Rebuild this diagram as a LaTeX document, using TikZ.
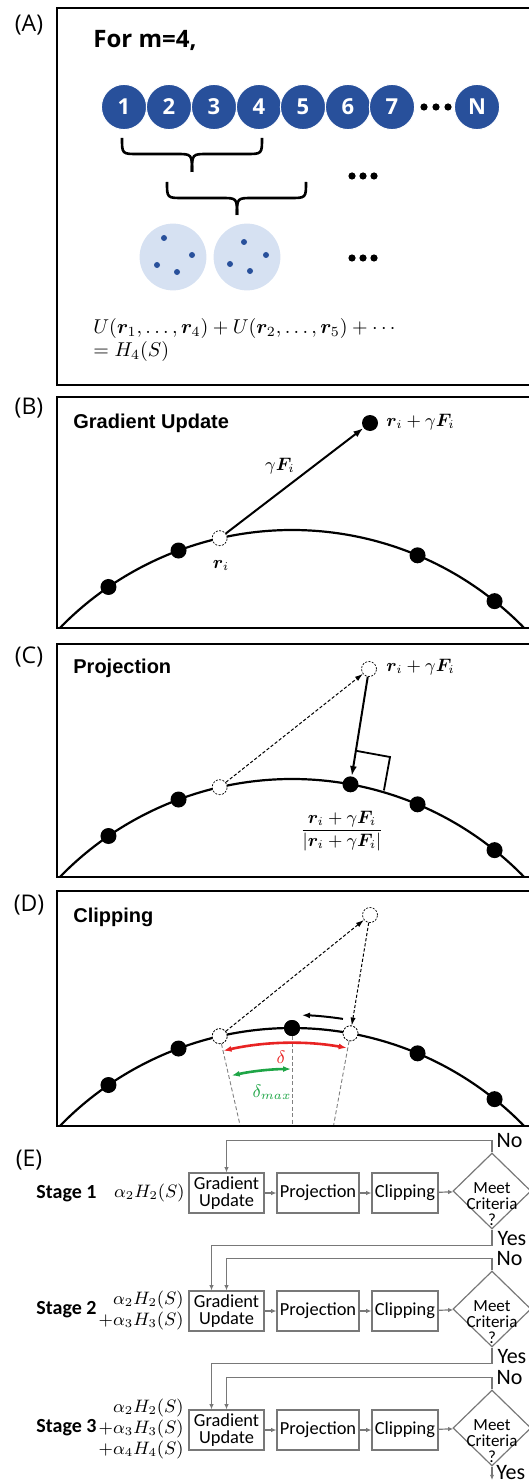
\documentclass[tikz,border=0pt]{standalone}
\usepackage{amsmath}
\usepackage{bm}
\usepackage{fontspec}
\newfontfamily\arialfont{Liberation Sans}
\newfontfamily\calfont{Carlito}
\newfontfamily\segfont{Open Sans}
\usetikzlibrary{arrows.meta,shapes.geometric}
\definecolor{seqblue}{RGB}{40,80,155}
\definecolor{clusterblue}{RGB}{214,225,242}
\definecolor{deltared}{RGB}{232,35,35}
\definecolor{deltagreen}{RGB}{30,165,70}
\definecolor{flowgray}{RGB}{120,120,120}
\begin{document}
\begin{tikzpicture}[x=0.5pt, y=-0.5pt,
  panel/.style={line width=1.2pt},
  tag/.style={inner sep=0pt, font=\segfont\fontsize{11.5}{13}\selectfont},
  heading/.style={anchor=west, inner sep=0pt, font=\arialfont\bfseries\fontsize{10}{12}\selectfont},
  seqatom/.style={circle, fill=seqblue, draw=white, line width=0.5pt, minimum size=22.6pt, inner sep=0pt, text=white, font=\segfont\bfseries\fontsize{11}{12}\selectfont},
  sphere/.style={line width=1.1pt},
  atom/.style={circle, fill=black, inner sep=0pt, minimum size=8pt},
  ghost/.style={circle, draw, dash pattern=on 1pt off 0.7pt, line width=0.35pt, fill=white, inner sep=0pt, minimum size=7.5pt},
  mathlbl/.style={inner sep=1pt, font=\fontsize{9}{11}\selectfont},
  pusharrow/.style={-{Latex[length=5pt,width=3.5pt]}, line width=1pt},
  trialarrow/.style={-{Latex[length=4pt,width=2.6pt]}, dash pattern=on 1.6pt off 1pt, line width=0.5pt},
  radial/.style={gray, dash pattern=on 2pt off 1.2pt, line width=0.45pt},
  stagelbl/.style={anchor=west, inner sep=0pt, font=\calfont\bfseries\fontsize{10}{12}\selectfont},
  coef/.style={inner sep=0pt, align=right, font=\fontsize{9}{10.5}\selectfont},
  stepbox/.style={draw=flowgray, line width=0.6pt, minimum height=20pt, inner sep=1pt, align=center, font=\calfont\fontsize{9.2}{8.6}\selectfont},
  decide/.style={diamond, draw=flowgray, line width=0.6pt, minimum width=39pt, minimum height=38pt, inner sep=0pt,
    label={[align=center, inner sep=0pt, yshift=-6.5pt, font=\calfont\fontsize{8.5}{7.8}\selectfont]center:{Meet\\Criteria\\?}}},
  flow/.style={flowgray, line width=0.6pt, -{Latex[length=2.6pt,width=2.2pt]}},
  answer/.style={inner sep=0pt, text=black, font=\calfont\fontsize{11}{12}\selectfont}
]
\useasboundingbox (0,0) rectangle (529,1482);
\clip (0,0) rectangle (529,1482);

% (A) sliding windows
\draw[panel] (57,8) rectangle (620,385);
\node[tag] (tagA) at (29,25) {(A)};
\node[anchor=west, inner sep=0pt, font=\segfont\bfseries\fontsize{12}{14}\selectfont] (forM) at (93,40) {For m=4,};
\node[seqatom] (a1) at (124,107) {1};
\node[seqatom] (a2) at (169,107) {2};
\node[seqatom] (a3) at (214,107) {3};
\node[seqatom] (a4) at (259,107) {4};
\node[seqatom] (a5) at (303,107) {5};
\node[seqatom] (a6) at (348,107) {6};
\node[seqatom] (a7) at (392,107) {7};
\node[seqatom] (aN) at (477,107) {N};
\fill (424,107) circle (1.8pt) (436,107) circle (1.8pt) (448,107) circle (1.8pt);
% braces
\draw[line width=1.3pt, line join=round] (122,138) .. controls (122,154) .. (138,154) -- (176,154) .. controls (192,154) .. (192,172);
\draw[line width=1.3pt, line join=round] (262,138) .. controls (262,154) .. (246,154) -- (208,154) .. controls (192,154) .. (192,172);
\draw[line width=1.3pt, line join=round] (167,182) .. controls (167,198) .. (183,198) -- (221,198) .. controls (237,198) .. (237,215);
\draw[line width=1.3pt, line join=round] (306,182) .. controls (306,198) .. (290,198) -- (253,198) .. controls (237,198) .. (237,215);
\fill (352,176) circle (1.8pt) (363,176) circle (1.8pt) (374,176) circle (1.8pt);
% clusters
\fill[clusterblue] (173,257) circle (16.7pt) (247,257) circle (16.7pt);
\fill[seqblue] (164,238) circle (1.5pt) (192,255) circle (1.5pt) (157,265) circle (1.5pt) (177,272) circle (1.5pt);
\fill[seqblue] (244,242) circle (1.5pt) (266,255) circle (1.5pt) (230,264) circle (1.5pt) (250,271) circle (1.5pt);
\fill (352,258) circle (1.8pt) (363,258) circle (1.8pt) (374,258) circle (1.8pt);
\node[anchor=west, inner sep=0pt, font=\fontsize{10}{12}\selectfont] (sumU) at (93,328) {$U(\bm{r}_1,\dots,\bm{r}_4)+U(\bm{r}_2,\dots,\bm{r}_5)+\cdots$};
\node[anchor=west, inner sep=0pt, font=\fontsize{10}{12}\selectfont] (sumH) at (93,351) {$=H_4(S)$};

% (B) gradient update
\node[tag] (tagB) at (29,408) {(B)};
\begin{scope}
\clip (57,397) rectangle (620,628);
\begin{scope}[shift={(292,854)}]
\draw[sphere] (-140:324) arc[start angle=-140, end angle=-40, radius=324];
\node[atom] (b1) at (-124.5:324) {};
\node[atom] (b2) at (-110.5:324) {};
\node[atom] (b3) at (-67.2:324) {};
\node[atom] (b4) at (-51.3:324) {};
\node[ghost] (bri) at (-102.9:324) {};
\end{scope}
\end{scope}
\draw[panel] (57,397) rectangle (620,628);
\node[heading] (headB) at (73,423) {Gradient Update};
\node[atom] (bnew) at (370,423) {};
\draw[pusharrow] (bri) -- (bnew);
\node[mathlbl] (lblBF) at (280,466) {$\gamma\bm{F}_i$};
\node[mathlbl] (lblBri) at (221,565) {$\bm{r}_i$};
\node[mathlbl, anchor=west] (lblBnew) at (384,422) {$\bm{r}_i+\gamma\bm{F}_i$};

% (C) projection
\node[tag] (tagC) at (29,657) {(C)};
\begin{scope}
\clip (57,644) rectangle (620,877);
\begin{scope}[shift={(292,1103)}]
\draw[sphere] (-140:324) arc[start angle=-140, end angle=-40, radius=324];
\draw[line width=0.9pt] (-79.6:358) -- ++(33.4,6.1) -- ++(-6.1,33.4);
\node[atom] (c1) at (-124.5:324) {};
\node[atom] (c2) at (-110.5:324) {};
\node[atom] (c3) at (-67.2:324) {};
\node[atom] (c4) at (-51.3:324) {};
\node[ghost] (cri) at (-102.9:324) {};
\node[atom] (cproj) at (-79.6:324) {};
\end{scope}
\end{scope}
\draw[panel] (57,644) rectangle (620,877);
\node[heading] (headC) at (73,668) {Projection};
\node[ghost] (cnew) at (369,669) {};
\draw[trialarrow] (cri) -- (cnew);
\draw[pusharrow] (cnew) -- (cproj);
\node[mathlbl, anchor=west] (lblCnew) at (384,667) {$\bm{r}_i+\gamma\bm{F}_i$};
\node[mathlbl] (lblCproj) at (342,831) {$\dfrac{\bm{r}_i+\gamma\bm{F}_i}{|\bm{r}_i+\gamma\bm{F}_i|}$};

% (D) clipping
\node[tag] (tagD) at (29,905) {(D)};
\begin{scope}
\clip (57,891) rectangle (620,1126);
\begin{scope}[shift={(292,1352)}]
\node[ghost] (dri) at (-102.9:324) {};
\node[atom] (dclip) at (-90:324) {};
\node[ghost] (dproj) at (-79.6:324) {};
\draw[radial] (dri) -- (-102.9:226);
\draw[radial] (dclip) -- (-90:224);
\draw[radial] (dproj) -- (-79.6:226);
\draw[sphere] (-140:324) arc[start angle=-140, end angle=-40, radius=324];
\draw[{Latex[length=4pt,width=3pt]}-{Latex[length=4pt,width=3pt]}, deltared, line width=1.3pt] (-102.8:309) arc[start angle=-102.8, end angle=-79.8, radius=309];
\draw[{Latex[length=4pt,width=3pt]}-{Latex[length=4pt,width=3pt]}, deltagreen, line width=1.3pt] (-102.3:283) arc[start angle=-102.3, end angle=-90.2, radius=283];
\draw[-{Latex[length=4pt,width=3pt]}, line width=1pt] (-81.3:337) arc[start angle=-81.3, end angle=-88.3, radius=337];
\node[atom] (d1) at (-124.5:324) {};
\node[atom] (d2) at (-110.5:324) {};
\node[atom] (d3) at (-67.2:324) {};
\node[atom] (d4) at (-51.3:324) {};
\node[ghost] at (dri) {};
\node[atom] at (dclip) {};
\node[ghost] at (dproj) {};
\end{scope}
\end{scope}
\draw[panel] (57,891) rectangle (620,1126);
\node[heading] (headD) at (73,917) {Clipping};
\node[ghost] (dnew) at (370,915) {};
\draw[trialarrow] (dri) -- (dnew);
\draw[trialarrow] (dnew) -- (dproj);
\node[mathlbl, text=deltared] (lblDelta) at (281,1057) {$\delta$};
\node[mathlbl, text=deltagreen] (lblDmax) at (272,1092) {$\delta_{max}$};

% (E) staged optimisation
\node[tag] (tagE) at (29,1160) {(E)};
% stage 1
\node[stagelbl] (stage1) at (36,1194) {Stage 1};
\node[coef, anchor=east] (coef1) at (185,1193) {$\alpha_2H_2(S)$};
\node[stepbox, minimum width=37.5pt] (grad1) at (226.5,1193) {Gradient\\Update};
\node[stepbox, minimum width=41pt] (proj1) at (318,1193) {Projection};
\node[stepbox, minimum width=33pt] (clip1) at (405,1193) {Clipping};
\node[decide] (meet1) at (492,1191) {};
\draw[flow] (grad1) -- (proj1);
\draw[flow] (proj1) -- (clip1);
\draw[flow] (clip1) -- (meet1);
\draw[flow] (meet1.north) -- ++(0,-12) node[answer, anchor=west, xshift=2pt] (no1) {No} -| (grad1.north);
% stage 2
\node[stagelbl] (stage2) at (36,1310) {Stage 2};
\node[coef, anchor=east] (coef2) at (184,1310) {$\alpha_2H_2(S)$\\$+\alpha_3H_3(S)$};
\node[stepbox, minimum width=37.5pt] (grad2) at (226.5,1311) {Gradient\\Update};
\node[stepbox, minimum width=41pt] (proj2) at (318,1311) {Projection};
\node[stepbox, minimum width=33pt] (clip2) at (405,1311) {Clipping};
\node[decide] (meet2) at (492,1309) {};
\draw[flow] (grad2) -- (proj2);
\draw[flow] (proj2) -- (clip2);
\draw[flow] (clip2) -- (meet2);
\draw[flow] (meet1.south) -- ++(0,16) node[answer, pos=0.55, anchor=west, xshift=2.5pt] (yes1) {Yes} -| ([xshift=-7.5pt]grad2.north);
\draw[flow] (meet2.north) -- ++(0,-12) node[answer, anchor=west, xshift=2pt] (no2) {No} -| (grad2.north);
% stage 3
\node[stagelbl] (stage3) at (36,1428) {Stage 3};
\node[coef, anchor=east] (coef3) at (184,1429) {$\alpha_2H_2(S)$\\$+\alpha_3H_3(S)$\\$+\alpha_4H_4(S)$};
\node[stepbox, minimum width=37.5pt] (grad3) at (226.5,1430) {Gradient\\Update};
\node[stepbox, minimum width=41pt] (proj3) at (318,1430) {Projection};
\node[stepbox, minimum width=33pt] (clip3) at (405,1430) {Clipping};
\node[decide] (meet3) at (492,1428) {};
\draw[flow] (grad3) -- (proj3);
\draw[flow] (proj3) -- (clip3);
\draw[flow] (clip3) -- (meet3);
\draw[flow] (meet2.south) -- ++(0,16) node[answer, pos=0.55, anchor=west, xshift=2.5pt] (yes2) {Yes} -| ([xshift=-7.5pt]grad3.north);
\draw[flow] (meet3.north) -- ++(0,-12) node[answer, anchor=west, xshift=2pt] (no3) {No} -| (grad3.north);
\coordinate (out3) at (492,1480);
\draw[flow] (meet3.south) -- (out3);
\node[answer, anchor=west] (yes3) at (496,1473) {Yes};
\end{tikzpicture}
\end{document}
